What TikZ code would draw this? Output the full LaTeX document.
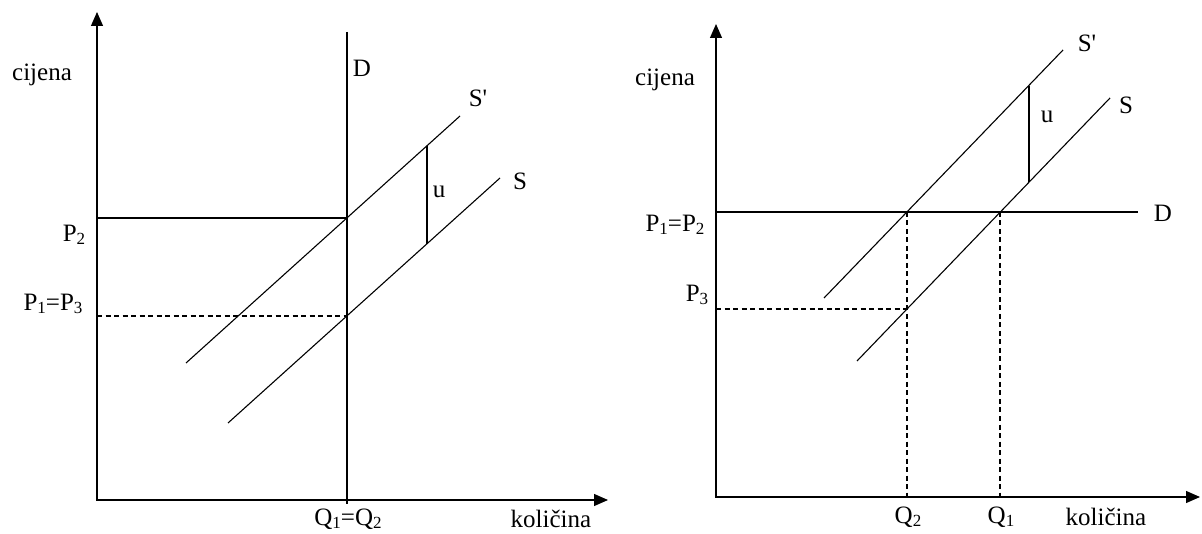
\documentclass[tikz,border=0pt]{standalone}
\usepackage{fontspec}
\setmainfont{Liberation Serif}
\usetikzlibrary{arrows.meta}
\newcommand{\lo}[1]{\raisebox{-0.3ex}{\fontsize{17}{18}\selectfont #1}}

\begin{document}
\begin{tikzpicture}[x=1pt, y=-1pt,
            axis/.style={line width=1.2pt, {Triangle[length=14pt,width=12pt]}-{Triangle[length=14pt,width=12pt]}},
            curve/.style={line width=1.1pt},
            guide/.style={line width=1.1pt, dash pattern=on 5pt off 3.5pt},
            lbl/.style={inner sep=0pt, font=\fontsize{25}{28}\selectfont}
        ]
            \useasboundingbox (0,0) rectangle (1202,534);

            % left: vertical demand
            \coordinate (yL) at (97,12);
            \coordinate (oL) at (97,500);
            \coordinate (xL) at (608,500);
            \coordinate (dTopL) at (347,32);
            \coordinate (dBotL) at (347,504);
            \coordinate (sPrLoL) at (186,363);
            \coordinate (sPrHiL) at (460,116);
            \coordinate (sLoL) at (228,423);
            \coordinate (sHiL) at (500,178);
            \coordinate (p2L) at (97,218);
            \coordinate (e2L) at (347,218);
            \coordinate (p1L) at (97,316);
            \coordinate (e1L) at (347,316);
            \coordinate (uTopL) at (427,146);
            \coordinate (uBotL) at (427,244);

            \draw [axis] (yL) -- (oL) -- (xL);
            \draw [curve] (dTopL) -- (dBotL);
            \draw [curve] (sPrLoL) -- (sPrHiL);
            \draw [curve] (sLoL) -- (sHiL);
            \draw [curve] (p2L) -- (e2L);
            \draw [guide] (p1L) -- (e1L);
            \draw [curve] (uTopL) -- (uBotL);

            \node (cijenaL) [lbl] at (42,75) {cijena};
            \node (dL) [lbl] at (362,68) {D};
            \node (sPrL) [lbl] at (478,98) {S\textquotesingle};
            \node (sL) [lbl] at (520,181) {S};
            \node (uL) [lbl] at (439,192) {u};
            \node (p2lblL) [lbl] at (74,235) {P\lo{2}};
            \node (p13L) [lbl] at (53,304) {P\lo{1}=P\lo{3}};
            \node (q12L) [lbl] at (348,519) {Q\lo{1}=Q\lo{2}};
            \node (kolL) [lbl] at (551,519) {količina};

            % right: horizontal demand
            \coordinate (yR) at (716,24);
            \coordinate (oR) at (716,497);
            \coordinate (xR) at (1200,497);
            \coordinate (dLeR) at (716,212);
            \coordinate (dRiR) at (1138,212);
            \coordinate (sPrLoR) at (824,298);
            \coordinate (sPrHiR) at (1063,50);
            \coordinate (sLoR) at (857,361);
            \coordinate (sHiR) at (1110,98);
            \coordinate (e2R) at (907,212);
            \coordinate (q2R) at (907,497);
            \coordinate (e1R) at (1000,212);
            \coordinate (q1R) at (1000,497);
            \coordinate (p3R) at (716,309);
            \coordinate (e3R) at (907,309);
            \coordinate (uTopR) at (1029,86);
            \coordinate (uBotR) at (1029,182);

            \draw [axis] (yR) -- (oR) -- (xR);
            \draw [curve] (dLeR) -- (dRiR);
            \draw [curve] (sPrLoR) -- (sPrHiR);
            \draw [curve] (sLoR) -- (sHiR);
            \draw [guide] (e2R) -- (q2R);
            \draw [guide] (e1R) -- (q1R);
            \draw [guide] (p3R) -- (e3R);
            \draw [curve] (uTopR) -- (uBotR);

            \node (cijenaR) [lbl] at (665,80) {cijena};
            \node (p12R) [lbl] at (675,225) {P\lo{1}=P\lo{2}};
            \node (p3lblR) [lbl] at (697,295) {P\lo{3}};
            \node (q2lblR) [lbl] at (908,517) {Q\lo{2}};
            \node (q1lblR) [lbl] at (1001,517) {Q\lo{1}};
            \node (kolR) [lbl] at (1106,517) {količina};
            \node (dR) [lbl] at (1163,213) {D};
            \node (sPrR) [lbl] at (1087,43) {S\textquotesingle};
            \node (uR) [lbl] at (1047,117) {u};
            \node (sR) [lbl] at (1126,105) {S};
        \end{tikzpicture}
\end{document}
